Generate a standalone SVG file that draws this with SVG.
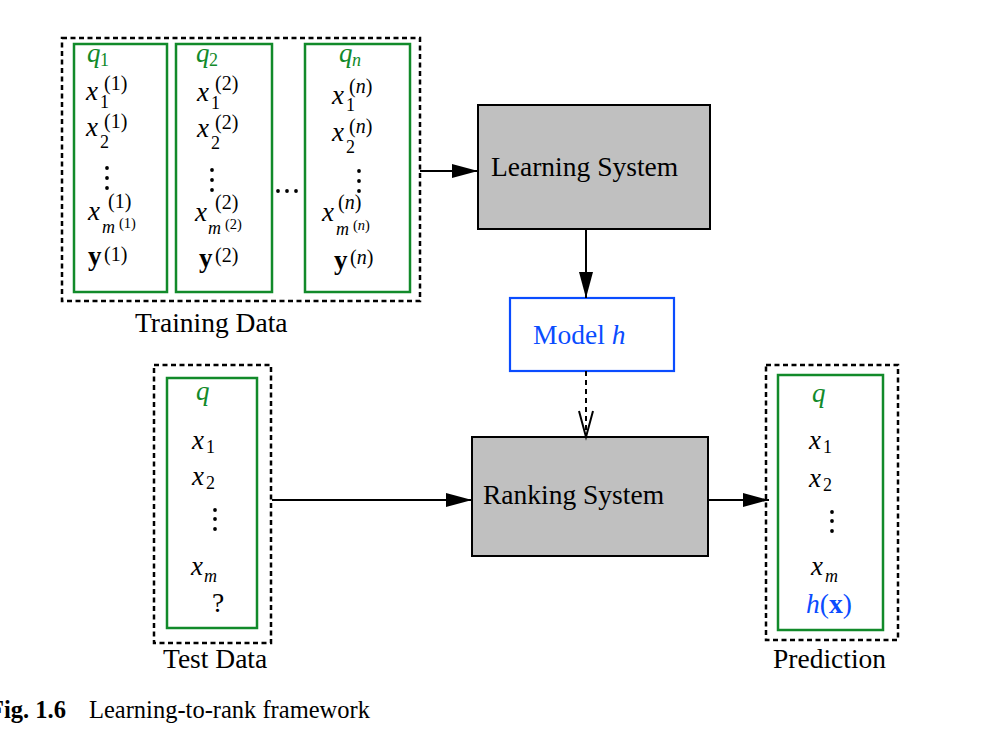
<svg xmlns="http://www.w3.org/2000/svg" width="1001" height="755" viewBox="0 0 1001 755">
<style>
.t{font-family:"Liberation Serif","Times New Roman",serif;font-size:27.5px;fill:#000}
.m{font-family:"Liberation Serif","Times New Roman",serif;font-size:27px;font-style:italic;fill:#000}
.b{font-family:"Liberation Serif","Times New Roman",serif;font-size:27px;font-weight:bold;fill:#000}
.s{font-family:"Liberation Serif","Times New Roman",serif;font-size:18px;fill:#000}
.p{font-family:"Liberation Serif","Times New Roman",serif;font-size:20px;fill:#000}
.si{font-family:"Liberation Serif","Times New Roman",serif;font-size:18px;font-style:italic;fill:#000}
.ss{font-family:"Liberation Serif","Times New Roman",serif;font-size:14.5px;fill:#000}
.i{font-style:italic}
.g{fill:#118a2a}
.bl{fill:#0a4cff}
.dash{fill:none;stroke:#000;stroke-width:2.5;stroke-dasharray:5 3.5}
.green{fill:#fff;stroke:#118a2a;stroke-width:2.5}
.sys{fill:#c0c0c0;stroke:#000;stroke-width:2}
.model{fill:#fff;stroke:#0a4cff;stroke-width:2.2}
.ln{fill:none;stroke:#000;stroke-width:2}
.cap{font-family:"Liberation Serif","Times New Roman",serif;font-size:24.5px;fill:#000}
</style>
<defs>
<marker id="ah" markerUnits="userSpaceOnUse" markerWidth="26" markerHeight="14" refX="26" refY="7" orient="auto">
<path d="M0,0 L26,7 L0,14 Z" fill="#000"/>
</marker>
</defs>

<g id="training-data">
<rect class="dash" x="62" y="38" width="358" height="263"/>
<text class="t" x="135" y="332">Training Data</text>
<circle cx="278" cy="191" r="1.9"/><circle cx="287" cy="191" r="1.9"/><circle cx="296" cy="191" r="1.9"/>
</g>

<g id="query-1">
<rect class="green" x="74" y="44" width="93" height="248"/>
<text class="m g" x="87" y="62">q</text><text class="s g" x="100" y="66">1</text>
<text class="m" x="86" y="100">x</text><text class="s" x="100" y="108">1</text><text class="p" x="104" y="90">(1)</text>
<text class="m" x="86" y="136">x</text><text class="s" x="100" y="148">2</text><text class="p" x="104" y="128">(1)</text>
<circle cx="107" cy="168" r="1.9"/><circle cx="107" cy="178" r="1.9"/><circle cx="107" cy="188" r="1.9"/>
<text class="m" x="88" y="220">x</text><text class="p" x="108" y="208">(1)</text><text class="si" x="102" y="233">m</text><text class="ss" x="119" y="228">(1)</text>
<text class="b" x="88" y="265">y</text><text class="p" x="104" y="261">(1)</text>
</g>

<g id="query-2">
<rect class="green" x="176" y="44" width="96" height="248"/>
<text class="m g" x="196" y="62">q</text><text class="s g" x="209" y="66">2</text>
<text class="m" x="197" y="101">x</text><text class="s" x="211" y="109">1</text><text class="p" x="215" y="90">(2)</text>
<text class="m" x="197" y="137">x</text><text class="s" x="211" y="149">2</text><text class="p" x="215" y="129">(2)</text>
<circle cx="212" cy="170" r="1.9"/><circle cx="212" cy="180" r="1.9"/><circle cx="212" cy="190" r="1.9"/>
<text class="m" x="195" y="221">x</text><text class="p" x="215" y="209">(2)</text><text class="si" x="208" y="234">m</text><text class="ss" x="225" y="229">(2)</text>
<text class="b" x="199" y="267">y</text><text class="p" x="215" y="262">(2)</text>
</g>

<g id="query-n">
<rect class="green" x="305" y="44" width="105" height="248"/>
<text class="m g" x="339" y="62">q</text><text class="si g" x="352" y="66">n</text>
<text class="m" x="332" y="104">x</text><text class="s" x="346" y="111">1</text><text class="p" x="349" y="93">(<tspan class="i">n</tspan>)</text>
<text class="m" x="332" y="141">x</text><text class="s" x="346" y="153">2</text><text class="p" x="349" y="133">(<tspan class="i">n</tspan>)</text>
<circle cx="359" cy="171" r="1.9"/><circle cx="359" cy="181" r="1.9"/><circle cx="359" cy="191" r="1.9"/>
<text class="m" x="322" y="221">x</text><text class="p" x="338" y="209">(<tspan class="i">n</tspan>)</text><text class="si" x="336" y="235">m</text><text class="ss" x="353" y="230">(<tspan class="i">n</tspan>)</text>
<text class="b" x="334" y="269">y</text><text class="p" x="350" y="264">(<tspan class="i">n</tspan>)</text>
</g>

<g id="learning-system">
<rect class="sys" x="478" y="105" width="232" height="124"/>
<text class="t" x="491" y="176">Learning System</text>
</g>

<g id="model-h">
<rect class="model" x="510" y="298" width="164" height="73"/>
<text class="t bl" x="533" y="344">Model <tspan class="i">h</tspan></text>
</g>

<g id="ranking-system">
<rect class="sys" x="472" y="437" width="236" height="119"/>
<text class="t" x="483" y="504">Ranking System</text>
</g>

<g id="test-data">
<rect class="dash" x="154" y="365" width="117" height="278"/>
<rect class="green" x="167" y="378" width="90" height="250"/>
<text class="m g" x="196" y="400">q</text>
<text class="m" x="192" y="449">x</text><text class="s" x="206" y="453">1</text>
<text class="m" x="192" y="485">x</text><text class="s" x="206" y="489">2</text>
<circle cx="215" cy="510" r="1.9"/><circle cx="215" cy="519" r="1.9"/><circle cx="215" cy="529" r="1.9"/>
<text class="m" x="191" y="575">x</text><text class="si" x="204" y="582">m</text>
<text class="t" x="212" y="612">?</text>
<text class="t" x="163" y="668">Test Data</text>
</g>

<g id="prediction">
<rect class="dash" x="766" y="365" width="132" height="275"/>
<rect class="green" x="778" y="375" width="105" height="255"/>
<text class="m g" x="812" y="402">q</text>
<text class="m" x="809" y="449">x</text><text class="s" x="823" y="453">1</text>
<text class="m" x="809" y="487">x</text><text class="s" x="823" y="491">2</text>
<circle cx="832" cy="512" r="1.9"/><circle cx="832" cy="521" r="1.9"/><circle cx="832" cy="531" r="1.9"/>
<text class="m" x="811" y="575">x</text><text class="si" x="825" y="582">m</text>
<text class="t bl" x="806" y="613"><tspan class="i">h</tspan>(<tspan font-weight="bold">x</tspan>)</text>
<text class="t" x="773" y="668">Prediction</text>
</g>

<g id="connectors">
<line class="ln" x1="420" y1="171" x2="478" y2="171" marker-end="url(#ah)"/>
<line class="ln" x1="586" y1="229" x2="586" y2="298" marker-end="url(#ah)"/>
<line class="ln" x1="586" y1="371" x2="586" y2="436" stroke-dasharray="5 4"/>
<polyline class="ln" points="579,411 586,437 593,411"/>
<line class="ln" x1="272" y1="500" x2="472" y2="500" marker-end="url(#ah)"/>
<line class="ln" x1="708" y1="500" x2="769" y2="500" marker-end="url(#ah)"/>
</g>

<g id="caption">
<text class="cap" x="-11" y="718"><tspan font-weight="bold">Fig. 1.6</tspan></text>
<text class="cap" x="89" y="718">Learning-to-rank framework</text>
</g>
</svg>
